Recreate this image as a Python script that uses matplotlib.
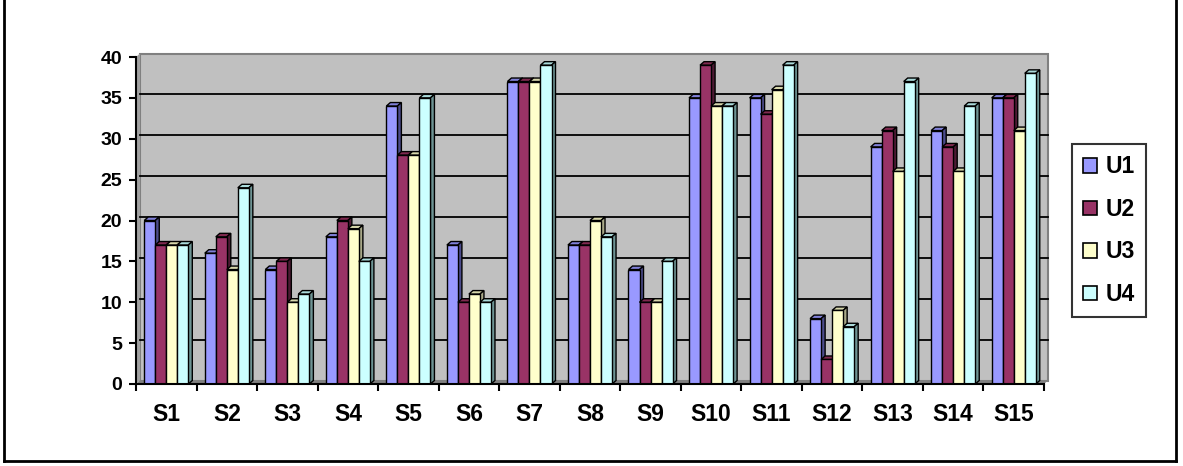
import matplotlib
matplotlib.use("Agg")
import matplotlib.pyplot as plt
from matplotlib import font_manager as fm
from matplotlib.patches import Polygon, Rectangle, Patch
from matplotlib.lines import Line2D
import matplotlib.transforms as mtrans
import numpy as np

# ---------------- data ----------------
categories = ["S1", "S2", "S3", "S4", "S5", "S6", "S7", "S8", "S9", "S10",
              "S11", "S12", "S13", "S14", "S15"]
series_names = ["U1", "U2", "U3", "U4"]
u1 = [20, 16, 14, 18, 34, 17, 37, 17, 14, 35, 35, 8, 29, 31, 35]
u2 = [17, 18, 15, 20, 28, 10, 37, 17, 10, 39, 33, 3, 31, 29, 35]
u3 = [17, 14, 10, 19, 28, 11, 37, 20, 10, 34, 36, 9, 26, 26, 31]
u4 = [17, 24, 11, 15, 35, 10, 39, 18, 15, 34, 39, 7, 37, 34, 38]
y_ticks = [0, 5, 10, 15, 20, 25, 30, 35, 40]

# ---------------- style ----------------
front_colors = ["#9999FF", "#993366", "#FFFFCC", "#CCFFFF"]
top_colors = ["#8080D8", "#80294F", "#D6D6AA", "#AADADA"]
side_colors = ["#4C4C8C", "#4D1A33", "#A8A888", "#6E9494"]

names = {f.name for f in fm.fontManager.ttflist}
if "Liberation Sans Narrow" in names:
    FAM = "Liberation Sans Narrow"
    XS, YS, LS = 17.5, 14.5, 17.5
else:
    FAM = "Liberation Sans"
    XS, YS, LS = 16.5, 14, 16.5

W, H = 1183, 466
fig = plt.figure(figsize=(W / 100, H / 100), dpi=100)
fig.patch.set_facecolor("white")

L, R, T, B = 136, 1044, 57, 384
ax = fig.add_axes([L / W, (H - B) / H, (R - L) / W, (B - T) / H])
ax.set_xlim(0, len(categories))
ax.set_ylim(0, 40)
ax.patch.set_visible(False)

DX, DY = 4, 3.5  # 3D depth offset in pixels
off = mtrans.offset_copy(ax.transData, fig=fig, x=DX, y=DY, units="dots")

n = len(categories)
# back wall
ax.add_patch(Rectangle((0, 0), n, 40, transform=off, facecolor="#C0C0C0",
                       edgecolor="#808080", lw=1.5, zorder=0.5, clip_on=False))
# gridlines on back wall
for yv in y_ticks[1:-1]:
    ax.add_line(Line2D([0, n], [yv, yv], transform=off, color="black",
                       lw=1.3, zorder=0.8, clip_on=False))

to_data = ax.transData.inverted()
def disp(x, y):
    return ax.transData.transform((x, y))
def poly_disp(pts, **kw):
    dpts = to_data.transform(np.array(pts))
    ax.add_patch(Polygon(dpts, closed=True, clip_on=False, **kw))

# side wall and floor
p00 = disp(0, 0); p040 = disp(0, 40); pn0 = disp(n, 0)
poly_disp([p00, p040, p040 + [DX, DY], p00 + [DX, DY]],
          facecolor="#A0A0A0", edgecolor="none", zorder=0.6)
poly_disp([p00, pn0, pn0 + [DX, DY], p00 + [DX, DY]],
          facecolor="#808080", edgecolor="none", zorder=0.7)

# bars
series = [u1, u2, u3, u4]
x = np.arange(n) + 0.5
bw = 0.182
for j, vals in enumerate(series):
    xs = x + (j - 1.5) * bw
    z = 2 + j * 0.1
    ax.bar(xs, vals, width=bw, color=front_colors[j], edgecolor="black",
           lw=1.0, zorder=z + 0.05, label=series_names[j])
    for xc, v in zip(xs, vals):
        x0, y0 = disp(xc - bw / 2, 0)
        x1, y1 = disp(xc + bw / 2, v)
        poly_disp([(x0, y1), (x1, y1), (x1 + DX, y1 + DY), (x0 + DX, y1 + DY)],
                  facecolor=top_colors[j], edgecolor="black", lw=1.0, zorder=z)
        poly_disp([(x1, y0), (x1 + DX, y0 + DY), (x1 + DX, y1 + DY), (x1, y1)],
                  facecolor=side_colors[j], edgecolor="black", lw=1.0, zorder=z)

# axes / spines
for s in ["top", "right"]:
    ax.spines[s].set_visible(False)
for s in ["left", "bottom"]:
    ax.spines[s].set_color("black")
    ax.spines[s].set_linewidth(1.5)
    ax.spines[s].set_zorder(5)

ax.set_yticks(y_ticks)
ax.set_yticklabels([str(v) for v in y_ticks], fontfamily=FAM,
                   fontweight="bold", fontsize=YS)
ax.tick_params(axis="y", direction="out", length=5, width=1.5, pad=5)

ax.set_xticks(np.arange(n + 1))
ax.set_xticklabels([])
ax.set_xticks(x, minor=True)
ax.set_xticklabels(categories, minor=True, fontfamily=FAM,
                   fontweight="bold", fontsize=XS)
ax.tick_params(axis="x", which="major", direction="out", length=5, width=1.5)
ax.tick_params(axis="x", which="minor", length=0, pad=14)

# legend
handles = [Patch(facecolor=front_colors[j], edgecolor="black", lw=1.2)
           for j in range(4)]
leg = fig.legend(handles, series_names, loc="upper left",
                 bbox_to_anchor=(1072 / W, 1 - 144 / H),
                 prop={"family": FAM, "weight": "bold", "size": LS},
                 frameon=True, fancybox=False, shadow=False,
                 handlelength=0.6, handleheight=0.6, handletextpad=0.35,
                 labelspacing=0.85, borderpad=0.5, borderaxespad=0.0)
leg.get_frame().set_edgecolor("black")
leg.get_frame().set_linewidth(1.5)

# outer border (left, right, bottom)
fig.add_artist(Line2D([4 / W, 4 / W], [1.0, 1 - 461 / H], transform=fig.transFigure,
                      color="black", lw=2))
fig.add_artist(Line2D([1176 / W, 1176 / W], [1.0, 1 - 461 / H], transform=fig.transFigure,
                      color="black", lw=2))
fig.add_artist(Line2D([4 / W, 1176 / W], [1 - 461 / H, 1 - 461 / H],
                      transform=fig.transFigure, color="black", lw=2))

fig.savefig("out.png", dpi=100, facecolor="white")
